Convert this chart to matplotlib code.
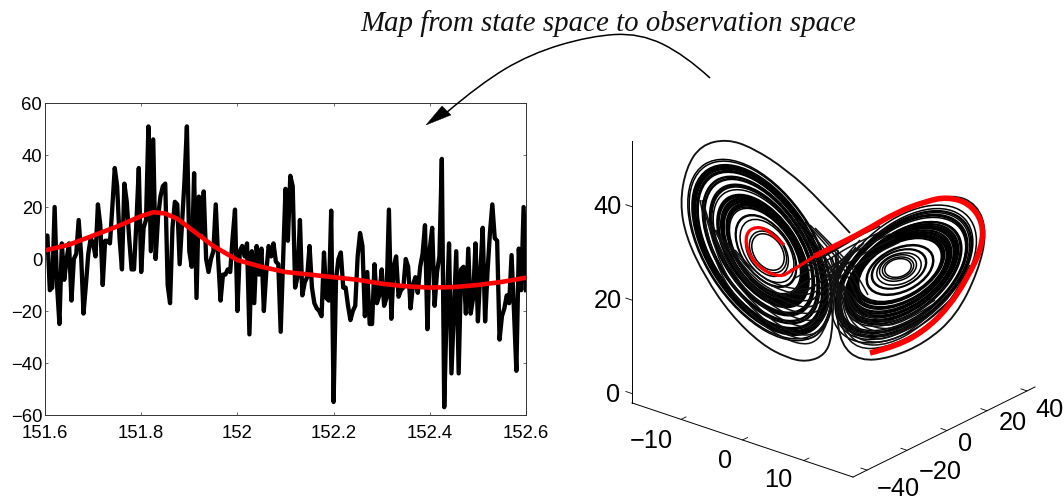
import matplotlib
matplotlib.use('Agg')
import matplotlib.pyplot as plt
import matplotlib.path as mpath
import matplotlib.patches as mpatches
import numpy as np

plt.rcParams['font.family'] = ['Liberation Sans', 'DejaVu Sans']

W, H = 1064, 499

# left panel: noisy observation, one value every 0.005
obs_start = 151.6
obs_step = 0.005
obs = [9, 9, -12, -11, 20, -10, -25, 6, -8, 0, 6, -16, 0, 2, 15, 2, -21, -10, 2, 8,
       6, 1, 21, 13, -10, 7, 7, 6, 20, 35, 28, 8, -4, 29, 22, 8, -4, -4, 14, 35,
       -5, 12, 15, 51, 3, 46, 0, 16, 24, 28, 29, -10, -17, 12, 22, 21, -2, 14, 30, 51,
       3, -3, 33, -15, 24, 10, 26, 0, -5, 0, 3, 21, 0, -16, -6, -6, -4, -5, 8, 19,
       -20, 3, 5, 1, 6, -29, 3, -17, 5, -6, 4, -20, -5, 5, 1, 6, -1, -2, -28, 0,
       27, 7, 32, 28, -11, -7, 15, -14, -9, -7, 5, -11, -17, -19, -20, -22, 2.5, -15, -16, 18.6,
       -55, -8, 0, 2.5, -11, -11, -18, -23.5, -20, -18, 1, 10, 5, -22, -5, -25, -25, -2, -17, -14,
       -4, -18, -15, 19, -23, -3, 1, -14.5, -12, -11, 0, -3, -19, -10, -7, -13, -3, 2, 13, -27,
       4, 12, -18, -5, 1, 38.5, -57, -20, 6, -44, -20, 3, -44, -4, -3, -21, 4, -21, -15, 6,
       -24, -5, 12, -24, -5, 10, 21, 8, 7, -31, -22, -19, -14, -17, 1.5, -20, -43, 4, -12, 20, -12]

# smoothed estimate
est_t = [151.605, 151.65, 151.7, 151.75, 151.8, 151.825, 151.85, 151.875, 151.9, 151.95, 152.0, 152.05, 152.1,
         152.15, 152.2, 152.25, 152.3, 152.35, 152.4, 152.45, 152.5, 152.55, 152.6]
est_y = [3.5, 5.5, 9, 12.5, 16.5, 18, 17.5, 15.5, 12, 5, -0.4, -3, -5,
         -6, -7, -8, -9.5, -10.5, -11, -10.8, -10, -8.8, -7.2]

left_xticks = [151.6, 151.8, 152, 152.2, 152.4, 152.6]
left_xlabels = ['151.6', '151.8', '152', '152.2', '152.4', '152.6']
left_yticks = [-60, -40, -20, 0, 20, 40, 60]
left_ylabels = ['\u221260', '\u221240', '\u221220', '0', '20', '40', '60']

# right panel: state space axes
x3_ticks = [-10, 0, 10]
y3_ticks = [-40, -20, 0, 20, 40]
z3_ticks = [0, 20, 40]
x3_lim = [-18, 18]
y3_lim = [-47, 44]
z3_lim = [-2, 54]

# trajectory, image pixels (control points)
wing_a = [(850, 233), (820, 200), (787, 170), (753, 148), (727, 139), (701, 145), (686, 168), (680, 203),
          (686, 237), (705, 277), (731, 315), (761, 344), (787, 358), (807, 362), (825, 355), (832, 337),
          (833, 303), (838, 277), (848, 258)]
wing_b = [(838, 262), (836, 310), (841, 345), (860, 361), (890, 358), (925, 343), (956, 316), (978, 272),
          (987, 232), (977, 204), (952, 194), (915, 205), (880, 222), (840, 248), (800, 270)]
red_right = [(870, 353), (897, 346), (924, 331), (948, 308), (968, 277), (982, 247), (983, 222), (969, 203),
             (947, 197), (927, 201), (897, 212), (863, 232), (837, 245), (815, 256)]
red_left = [(815, 256), (790, 272), (780, 277), (762, 270), (748, 254), (745, 234), (756, 226), (770, 231), (784, 245)]

# curves passing under the left wing into the middle
cusp_left = [
    [(700, 200), (712, 262), (745, 310), (780, 338), (812, 347), (828, 325), (832, 290), (842, 262)],
    [(702, 200), (716, 262), (750, 308), (785, 336), (815, 341), (830, 315), (834, 285), (845, 258)],
    [(704, 205), (720, 262), (755, 306), (790, 334), (818, 336), (831, 310), (835, 282), (848, 254)],
    [(708, 220), (728, 270), (765, 310), (798, 328), (822, 326), (832, 295), (838, 270), (852, 250)],
    [(712, 224), (732, 268), (768, 304), (802, 322), (824, 318), (833, 288), (841, 266), (856, 247)],
    [(716, 230), (735, 270), (770, 302), (805, 316), (825, 308), (834, 280), (845, 262), (860, 245)],
    [(720, 235), (740, 270), (775, 298), (808, 310), (826, 298), (835, 275), (848, 258), (864, 243)],
    [(725, 240), (745, 272), (780, 296), (810, 303), (826, 290), (836, 270), (850, 255)],
    [(730, 245), (750, 274), (783, 292), (812, 296), (827, 282), (840, 265), (856, 248)],
    [(735, 250), (756, 275), (785, 288), (812, 290), (828, 275), (842, 260), (860, 240)],
]
cusp_right = [
    [(838, 250), (838, 300), (842, 332), (858, 349), (885, 348), (920, 332), (950, 305), (970, 265)],
    [(836, 253), (839, 300), (844, 330), (860, 345), (888, 345), (920, 328), (949, 301)],
    [(835, 255), (840, 300), (846, 328), (862, 342), (890, 342), (920, 325), (948, 298)],
    [(832, 257), (841, 297), (848, 325), (866, 339), (892, 339), (922, 321)],
    [(830, 258), (842, 295), (850, 322), (870, 336), (895, 336), (925, 318)],
    [(827, 260), (844, 292), (852, 319), (872, 332), (897, 332), (927, 314)],
    [(825, 262), (845, 290), (855, 316), (875, 329), (900, 328), (930, 310)],
    [(820, 265), (845, 287), (857, 313), (877, 326), (902, 324), (932, 305)],
    [(815, 268), (846, 285), (860, 310), (880, 322), (905, 320), (935, 300)],
]
# bundle crossing from the left wing to the right wing
cross = [
    [(790, 270), (815, 260), (850, 240), (880, 226)],
    [(795, 278), (825, 262), (855, 243), (885, 230)],
    [(800, 285), (830, 268), (860, 248), (890, 234)],
    [(805, 292), (835, 272), (865, 252), (895, 238)],
    [(812, 300), (840, 276), (870, 256), (900, 242)],
    [(815, 228), (835, 248), (855, 270), (868, 295)],
    [(810, 225), (832, 247), (851, 272), (863, 298)],
    [(805, 222), (828, 246), (848, 274), (858, 300)],
    [(798, 220), (822, 244), (842, 276), (850, 305)],
    [(792, 218), (816, 242), (838, 278), (846, 308)],
    [(786, 218), (812, 244), (834, 280), (842, 312)],
]

# cx, cy, major, minor, angle of each ring, image pixels
left_rings = [
    (760, 250, 204, 110, 57), (760, 250, 200, 108, 57), (760, 250, 192, 104, 57), (760, 250, 190, 102, 57),
    (760, 250, 188, 101, 57), (760, 250, 186, 100, 57), (760, 250, 184, 99, 57), (760, 250, 182, 98, 57),
    (760, 250, 179, 96, 57), (760, 250, 177, 95, 57), (760, 250, 175, 94, 57), (761, 250, 166, 89, 57),
    (761, 250, 164, 88, 57), (761, 250, 161, 86, 57), (761, 250, 159, 85, 57), (762, 250, 148, 80, 57),
    (762, 250, 146, 79, 57), (762, 250, 144, 78, 57), (762, 250, 142, 76, 57), (763, 251, 139, 75, 56),
    (763, 251, 128, 70, 56), (763, 251, 126, 69, 56), (763, 251, 124, 68, 56), (763, 251, 122, 67, 56),
    (764, 251, 120, 66, 56), (764, 251, 118, 65, 56), (764, 251, 116, 64, 56), (764, 251, 114, 63, 56),
    (764, 251, 112, 62, 56), (764, 251, 110, 61, 56), (765, 251, 108, 59, 56), (765, 251, 106, 58, 56),
    (765, 251, 104, 57, 56), (765, 251, 102, 56, 56), (765, 251, 100, 55, 55), (765, 251, 97, 54, 55),
    (766, 251, 82, 48, 55), (766, 251, 80, 47, 55), (767, 251, 71, 43, 55), (767, 252, 54, 36, 55),
    (768, 252, 46, 32, 55), (768, 252, 40, 28, 55),
]
right_rings = [
    (904, 274, 172, 102, -42), (904, 274, 164, 96, -42), (904, 274, 160, 94, -41), (904, 274, 158, 93, -41),
    (904, 274, 155, 91, -41), (903, 274, 152, 89, -40), (903, 274, 150, 88, -40), (903, 274, 148, 87, -40),
    (903, 274, 146, 85, -39), (903, 274, 136, 79, -38), (903, 273, 134, 78, -38), (903, 273, 132, 77, -38),
    (902, 273, 130, 75, -37), (902, 273, 128, 74, -37), (902, 273, 126, 73, -36), (902, 273, 124, 72, -36),
    (902, 272, 122, 71, -36), (902, 272, 120, 70, -35), (902, 272, 118, 69, -35), (902, 272, 116, 68, -35),
    (901, 272, 114, 66, -34), (901, 272, 112, 65, -34), (901, 272, 110, 64, -33), (901, 272, 108, 62, -33),
    (901, 271, 106, 61, -32), (901, 271, 104, 60, -32), (901, 271, 102, 59, -31), (901, 271, 100, 58, -31),
    (900, 270, 98, 56, -30), (900, 270, 96, 55, -30), (900, 270, 94, 54, -30), (900, 270, 92, 53, -29),
    (900, 270, 90, 52, -29), (900, 270, 72, 44, -26), (900, 270, 70, 42, -26), (899, 269, 58, 36, -23),
    (899, 269, 56, 35, -23), (899, 269, 46, 30, -20), (898, 268, 38, 25, -18), (898, 268, 32, 21, -16),
    (898, 268, 27, 18, -15),
]


def project(x, y, z):
    u = 836.5 + 6.14 * x + 2.0 * y
    v = 384.1 + 2.06 * x - 0.99 * y - 4.67 * z
    return u, v


def smooth_path(pts):
    # pts are quadratic control points, curve runs through the midpoints
    verts = [pts[0]]
    codes = [mpath.Path.MOVETO]
    for i in range(1, len(pts) - 1):
        if i < len(pts) - 2:
            end = ((pts[i][0] + pts[i + 1][0]) / 2.0, (pts[i][1] + pts[i + 1][1]) / 2.0)
        else:
            end = pts[i + 1]
        verts += [pts[i], end]
        codes += [mpath.Path.CURVE3, mpath.Path.CURVE3]
    return mpath.Path(verts, codes)


fig = plt.figure(figsize=(W / 100.0, H / 100.0), dpi=100)

# left axes
ax = fig.add_axes([45.0 / W, 1 - 415.0 / H, 481.0 / W, 312.0 / H])
t_obs = obs_start + obs_step * np.arange(len(obs))
ax.plot(t_obs, obs, color='k', linewidth=3.1, solid_joinstyle='round')
ax.plot(est_t, est_y, color='#ff0000', linewidth=3.3, solid_joinstyle='round')
ax.set_xlim(151.6, 152.6)
ax.set_ylim(-60, 60)
ax.set_xticks(left_xticks)
ax.set_xticklabels(left_xlabels)
ax.set_yticks(left_yticks)
ax.set_yticklabels(left_ylabels)
ax.tick_params(direction='in', top=True, right=True, length=2.5, width=0.5, labelsize=13.3, color='#333333')
ax.tick_params(axis='x', pad=7)
ax.tick_params(axis='y', pad=2)
for s in ax.spines.values():
    s.set_linewidth(0.7)
    s.set_color('#333333')

# canvas for the state space plot, the arrow and the caption
cv = fig.add_axes([0, 0, 1, 1], facecolor='none')
cv.set_xlim(0, W)
cv.set_ylim(H, 0)
cv.axis('off')

lw_traj = 1.1
for r in left_rings + right_rings:
    cv.add_patch(mpatches.Ellipse((r[0], r[1]), r[2], r[3], angle=r[4], fill=False, edgecolor='k', linewidth=lw_traj))
for pts in cusp_left + cusp_right + cross:
    cv.add_patch(mpatches.PathPatch(smooth_path(pts), fill=False, edgecolor='#111111', linewidth=lw_traj))
for pts in [wing_a, wing_b]:
    cv.add_patch(mpatches.PathPatch(smooth_path(pts), fill=False, edgecolor='#111111', linewidth=1.35))
cv.add_patch(mpatches.PathPatch(smooth_path(red_right), fill=False, edgecolor='#ff0000', linewidth=4.0, capstyle='butt'))
cv.add_patch(mpatches.PathPatch(smooth_path(red_left), fill=False, edgecolor='#ff0000', linewidth=2.3, capstyle='butt'))

# 3d box edges
axis_ends = [((x3_lim[0], y3_lim[0], z3_lim[0]), (x3_lim[1], y3_lim[0], z3_lim[0])),
             ((x3_lim[1], y3_lim[0], z3_lim[0]), (x3_lim[1], y3_lim[1], z3_lim[0])),
             ((x3_lim[0], y3_lim[0], z3_lim[0]), (x3_lim[0], y3_lim[0], z3_lim[1]))]
for a, b in axis_ends:
    pa = project(*a)
    pb = project(*b)
    cv.plot([pa[0], pb[0]], [pa[1], pb[1]], color='k', linewidth=0.7)

x3_label_off = [(-30, 22), (-17, 21), (-26, 19)]
y3_label_off = [(31, 19), (33, 22), (18, 13), (26, 12), (22, 19)]
z3_label_off = [(-19, 1), (-24, 1), (-24, 0)]
for val, off, lab in zip(x3_ticks, x3_label_off, ['\u221210', '0', '10']):
    a = project(val, y3_lim[0], z3_lim[0])
    b = project(val, y3_lim[0] + 2.5, z3_lim[0])
    cv.plot([a[0], b[0]], [a[1], b[1]], color='k', linewidth=0.6)
    cv.text(a[0] + off[0], a[1] + off[1], lab, fontsize=18.3, ha='center', va='center')
for val, off, lab in zip(y3_ticks, y3_label_off, ['\u221240', '\u221220', '0', '20', '40']):
    a = project(x3_lim[1], val, z3_lim[0])
    b = project(x3_lim[1] - 1, val, z3_lim[0])
    cv.plot([a[0], b[0]], [a[1], b[1]], color='k', linewidth=0.6)
    cv.text(a[0] + off[0], a[1] + off[1], lab, fontsize=18.3, ha='center', va='center')
for val, off, lab in zip(z3_ticks, z3_label_off, ['0', '20', '40']):
    a = project(x3_lim[0], y3_lim[0], val)
    b = project(x3_lim[0] - 1, y3_lim[0], val)
    cv.plot([a[0], b[0]], [a[1], b[1]], color='k', linewidth=0.6)
    cv.text(a[0] + off[0], a[1] + off[1], lab, fontsize=18.3, ha='center', va='center')

# caption and arrow
cv.text(608, 24, 'Map from state space to observation space', family=['Liberation Serif'], style='italic',
        fontsize=20.8, ha='center', va='center', color='#111111')
arrow_pts = [(710, 78), (685, 55), (640, 33), (590, 36), (530, 54), (480, 84), (446, 113)]
cv.add_patch(mpatches.PathPatch(smooth_path(arrow_pts), fill=False, edgecolor='k', linewidth=1.1))
cv.add_patch(mpatches.Polygon([(426, 125), (442, 106), (451, 115)], closed=True, facecolor='k', edgecolor='k', linewidth=0.3))

fig.savefig('out.png', dpi=100)
